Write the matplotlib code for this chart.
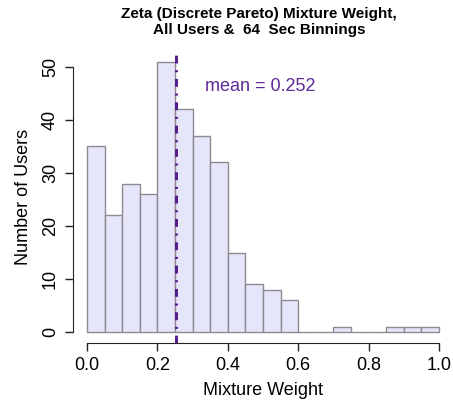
import numpy as np
import matplotlib
matplotlib.use("Agg")
import matplotlib.pyplot as plt

plt.rcParams['font.family'] = ['Liberation Sans', 'DejaVu Sans']

# histogram data: 20 bins of width 0.05 over [0, 1]
bin_edges = np.linspace(0.0, 1.0, 21)
counts = [35, 22, 28, 26, 51, 42, 37, 32, 15, 9, 8, 6, 0, 0, 1, 0, 0, 1, 1, 1]
mean_value = 0.252
x_ticks = [0.0, 0.2, 0.4, 0.6, 0.8, 1.0]
y_ticks = [0, 10, 20, 30, 40, 50]

fig = plt.figure(figsize=(4.53, 4.03), dpi=100)
ax = fig.add_axes([0.161, 0.149, 0.839, 0.725])

widths = np.diff(bin_edges)
ax.bar(bin_edges[:-1], counts, width=widths, align='edge',
       color='#E6E6FA', edgecolor='#8E8A92', linewidth=1.0)

# mean line (R dotdash style)
ax.axvline(mean_value, color='#551A8B', linewidth=2.1, dashes=(2.7, 2.3, 0.7, 2.3))
ax.text(0.335, 46.4, 'mean = 0.252', color='#5E2A96', fontsize=13,
        va='center', ha='left')

ax.set_xlim(-0.04, 1.04)
ax.set_ylim(-2.04, 53.04)

# R-style axes
for side in ['top', 'right']:
    ax.spines[side].set_visible(False)
ax.spines['left'].set_bounds(0, 50)
ax.spines['bottom'].set_bounds(0, 1)
ax.spines['left'].set_color('#222222')
ax.spines['bottom'].set_color('#222222')
ax.set_xticks(x_ticks)
ax.set_xticklabels([f'{t:.1f}' for t in x_ticks], fontsize=13)
ax.set_yticks(y_ticks)
ax.set_yticklabels([str(t) for t in y_ticks], fontsize=13, rotation=90, va='center')
ax.tick_params(length=6, width=1, color='#222222', pad=4)

ax.set_xlabel('Mixture Weight', fontsize=13, labelpad=6)
ax.set_ylabel('Number of Users', fontsize=13, labelpad=7)
ax.set_title('Zeta (Discrete Pareto) Mixture Weight,\nAll Users &  64  Sec Binnings',
             fontsize=11, fontweight='bold', pad=12, x=0.49)

fig.savefig('out.png', dpi=100)
